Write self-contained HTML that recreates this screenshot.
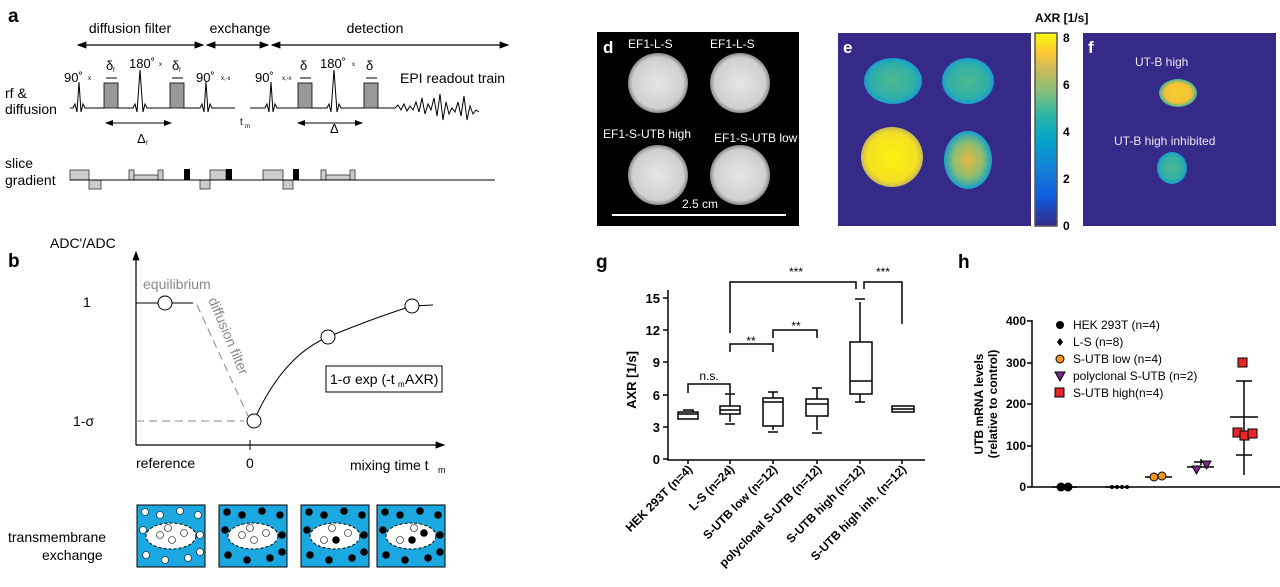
<!DOCTYPE html>
<html><head><meta charset="utf-8"><style>
body{margin:0;background:#fff}
svg{display:block;font-family:"Liberation Sans",sans-serif}
</style></head><body>
<svg width="1280" height="587" viewBox="0 0 1280 587" xmlns="http://www.w3.org/2000/svg">
<defs>
<marker id="ar" markerWidth="8" markerHeight="8" refX="7" refY="4" orient="auto-start-reverse"><path d="M0,1 L8,4 L0,7z" fill="#000"/></marker>
<linearGradient id="par" x1="0" y1="1" x2="0" y2="0">
<stop offset="0" stop-color="#352a87"/><stop offset="0.15" stop-color="#0f5cdd"/><stop offset="0.3" stop-color="#1481d6"/><stop offset="0.45" stop-color="#06a4ca"/><stop offset="0.58" stop-color="#2eb7a4"/><stop offset="0.7" stop-color="#87bf77"/><stop offset="0.82" stop-color="#d1bb59"/><stop offset="0.9" stop-color="#fec832"/><stop offset="1" stop-color="#f9fb0e"/></linearGradient>
<radialGradient id="bl1"><stop offset="0" stop-color="#4cb88e"/><stop offset="0.75" stop-color="#30b0a8"/><stop offset="1" stop-color="#1a9bcb"/></radialGradient>
<radialGradient id="bl2"><stop offset="0" stop-color="#f9f20f"/><stop offset="0.8" stop-color="#f4e020"/><stop offset="1" stop-color="#c9b85a"/></radialGradient>
<radialGradient id="bl3"><stop offset="0" stop-color="#e6b840"/><stop offset="0.6" stop-color="#8dbf70"/><stop offset="1" stop-color="#1aa0c8"/></radialGradient>
<radialGradient id="bl4"><stop offset="0" stop-color="#f2d22a"/><stop offset="0.7" stop-color="#f6c036"/><stop offset="1" stop-color="#40b4a0"/></radialGradient>
<radialGradient id="cir"><stop offset="0" stop-color="#e6e6e6"/><stop offset="0.85" stop-color="#cfcfcf"/><stop offset="1" stop-color="#8a8a8a"/></radialGradient>
</defs>

<!-- Panel a -->
<text x="8" y="22" font-size="19" font-weight="bold">a</text>
<text x="130" y="33" font-size="14" text-anchor="middle">diffusion filter</text>
<text x="240" y="33" font-size="14" text-anchor="middle">exchange</text>
<text x="375" y="33" font-size="14" text-anchor="middle">detection</text>
<g stroke="#000" stroke-width="1.2">
<line x1="78" y1="45" x2="203" y2="45" marker-start="url(#ar)" marker-end="url(#ar)"/>
<line x1="207" y1="45" x2="268" y2="45" marker-start="url(#ar)" marker-end="url(#ar)"/>
<line x1="272" y1="45" x2="508" y2="45" marker-start="url(#ar)" marker-end="url(#ar)"/>
</g>
<text x="5" y="98" font-size="14">rf &amp;</text>
<text x="5" y="114" font-size="14">diffusion</text>
<g fill="none" stroke="#000" stroke-width="1">
<path d="M70,108 H73 l2,-4 l2,8 l2,-30 l2,30 l2,-8 l2,4 H104"/>
<path d="M118,108 H133 l2,-4 l2,8 l3,-42 l3,42 l2,-8 l2,4 H170"/>
<path d="M182,108 H200 l2,-4 l2,8 l2,-30 l2,30 l2,-8 l2,4 H235"/>
<path d="M250,108 H265 l2,-4 l2,8 l2,-30 l2,30 l2,-8 l2,4 H298"/>
<path d="M310,108 H327 l2,-4 l2,8 l3,-42 l3,42 l2,-8 l2,4 H364"/>
<path d="M376,108 H395 l3,-3 l3,5 l3,-6 l3,7 l3,-5 l3,4 l3,-8 l3,10 l3,-14 l3,16 l3,-10 l3,6 l3,-12 l3,18 l3,-22 l3,26 l3,-18 l3,12 l3,-6 l3,4 l3,-10 l3,14 l3,-20 l3,24 l3,-14 l3,8 l3,-4 l3,2"/>
</g>
<g fill="#999" stroke="#000" stroke-width="0.8">
<rect x="104" y="83" width="14" height="25"/><rect x="170" y="83" width="14" height="25"/>
<rect x="298" y="83" width="14" height="25"/><rect x="364" y="83" width="14" height="25"/>
</g>
<g font-size="13"><text x="64" y="82">90˚</text><text x="129" y="68">180˚</text><text x="106" y="70">δ</text><text x="172" y="70">δ</text>
<text x="196" y="82">90˚</text><text x="255" y="82">90˚</text><text x="320" y="68">180˚</text><text x="300" y="70">δ</text><text x="366" y="70">δ</text>
<text x="400" y="83" font-size="14">EPI readout train</text>
<text x="137" y="143">Δ</text><text x="330" y="133">Δ</text><text x="240" y="125" font-size="10">t</text></g>
<g font-size="6"><text x="88" y="80">x</text><text x="159" y="66">x</text><text x="221" y="80">x,-x</text><text x="282" y="80">x,-x</text><text x="352" y="66">x</text><text x="113" y="72">f</text><text x="179" y="72">f</text><text x="146" y="145">f</text><text x="245" y="128">m</text></g>
<g stroke="#000" stroke-width="1"><line x1="106" y1="78" x2="117" y2="78"/><line x1="172" y1="78" x2="183" y2="78"/><line x1="300" y1="78" x2="311" y2="78"/><line x1="366" y1="78" x2="377" y2="78"/>
<line x1="106" y1="123" x2="171" y2="123" marker-start="url(#ar)" marker-end="url(#ar)"/>
<line x1="298" y1="123" x2="362" y2="123" marker-start="url(#ar)" marker-end="url(#ar)"/></g>
<text x="5" y="168" font-size="14">slice</text><text x="5" y="185" font-size="14">gradient</text>
<g fill="#ccc" stroke="#333" stroke-width="0.8">
<rect x="70" y="170" width="19" height="10"/><rect x="89" y="180" width="12" height="9"/>
<rect x="129" y="170" width="5" height="10"/><rect x="134" y="175" width="24" height="5"/><rect x="158" y="170" width="5" height="10"/>
<rect x="200" y="180" width="10" height="9"/><rect x="210" y="170" width="16" height="10"/>
<rect x="263" y="170" width="20" height="10"/><rect x="283" y="180" width="10" height="9"/>
<rect x="321" y="170" width="5" height="10"/><rect x="326" y="175" width="24" height="5"/><rect x="350" y="170" width="5" height="10"/>
</g>
<g fill="#000"><rect x="184" y="169" width="6" height="11"/><rect x="226" y="169" width="6" height="11"/><rect x="293" y="169" width="6" height="11"/></g>
<line x1="70" y1="180" x2="495" y2="180" stroke="#000" stroke-width="1"/>

<!-- Panel b -->
<text x="8" y="267" font-size="19" font-weight="bold">b</text>
<text x="50" y="248" font-size="14">ADC'/ADC</text>
<text x="83" y="307" font-size="14">1</text>
<text x="73" y="426" font-size="14">1-σ</text>
<line x1="136" y1="445" x2="136" y2="252" stroke="#000" stroke-width="1.2" marker-end="url(#ar)"/>
<line x1="136" y1="445" x2="444" y2="445" stroke="#000" stroke-width="1.2" marker-end="url(#ar)"/>
<line x1="250" y1="440" x2="250" y2="450" stroke="#000"/>
<text x="136" y="468" font-size="14">reference</text><text x="246" y="468" font-size="14">0</text>
<text x="350" y="470" font-size="14">mixing time t</text><text x="438" y="473" font-size="9">m</text>
<text x="143" y="289" font-size="14" fill="#888">equilibrium</text>
<path d="M136,303 H193" stroke="#000" fill="none"/>
<path d="M197,305 L248,416 M136,421 H244" stroke="#888" stroke-dasharray="8,5" fill="none"/>
<text transform="translate(208,300) rotate(67)" font-size="14" fill="#888">diffusion filter</text>
<path d="M257,414 Q285,355 328,337 T412,306 L433,305" stroke="#000" fill="none"/>
<g fill="#fff" stroke="#000"><circle cx="165" cy="303" r="7"/><circle cx="254" cy="421" r="7"/><circle cx="328" cy="337" r="7"/><circle cx="412" cy="306" r="7"/>
<rect x="326" y="366" width="116" height="26"/></g>
<text x="330" y="384" font-size="14">1-σ exp (-t</text><text x="398" y="387" font-size="8">m</text><text x="405" y="384" font-size="14">AXR)</text>

<text x="8" y="542" font-size="14">transmembrane</text><text x="42" y="560" font-size="14">exchange</text>
<g id="sq">
<rect x="137" y="505" width="68" height="62" fill="#1ba8e0" stroke="#000"/>
<ellipse cx="171" cy="536" rx="25" ry="13" fill="#fff" stroke="#000" stroke-dasharray="3,2"/>
</g>
<use href="#sq" x="82"/><use href="#sq" x="164"/><use href="#sq" x="240"/>
<g stroke="#000" stroke-width="0.6">
<g fill="#fff"><circle cx="145" cy="512" r="3.5"/><circle cx="160" cy="515" r="3.5"/><circle cx="180" cy="511" r="3.5"/><circle cx="198" cy="515" r="3.5"/><circle cx="143" cy="530" r="3.5"/><circle cx="200" cy="535" r="3.5"/><circle cx="146" cy="555" r="3.5"/><circle cx="165" cy="560" r="3.5"/><circle cx="188" cy="558" r="3.5"/><circle cx="200" cy="552" r="3.5"/><circle cx="160" cy="535" r="3.5"/><circle cx="172" cy="540" r="3.5"/><circle cx="184" cy="533" r="3.5"/><circle cx="168" cy="528" r="3.5"/>
<circle cx="242" cy="535" r="3.5"/><circle cx="254" cy="540" r="3.5"/><circle cx="266" cy="533" r="3.5"/><circle cx="250" cy="528" r="3.5"/>
<circle cx="324" cy="540" r="3.5"/><circle cx="348" cy="533" r="3.5"/><circle cx="332" cy="528" r="3.5"/>
<circle cx="400" cy="540" r="3.5"/><circle cx="414" cy="528" r="3.5"/></g>
<g fill="#000"><circle cx="227" cy="512" r="3.5"/><circle cx="242" cy="515" r="3.5"/><circle cx="262" cy="511" r="3.5"/><circle cx="280" cy="515" r="3.5"/><circle cx="225" cy="530" r="3.5"/><circle cx="282" cy="535" r="3.5"/><circle cx="228" cy="555" r="3.5"/><circle cx="247" cy="560" r="3.5"/><circle cx="270" cy="558" r="3.5"/><circle cx="282" cy="552" r="3.5"/>
<circle cx="309" cy="512" r="3.5"/><circle cx="324" cy="515" r="3.5"/><circle cx="344" cy="511" r="3.5"/><circle cx="362" cy="515" r="3.5"/><circle cx="307" cy="530" r="3.5"/><circle cx="364" cy="535" r="3.5"/><circle cx="310" cy="555" r="3.5"/><circle cx="329" cy="560" r="3.5"/><circle cx="352" cy="558" r="3.5"/><circle cx="364" cy="552" r="3.5"/><circle cx="336" cy="540" r="3.5"/>
<circle cx="385" cy="512" r="3.5"/><circle cx="400" cy="515" r="3.5"/><circle cx="420" cy="511" r="3.5"/><circle cx="438" cy="515" r="3.5"/><circle cx="383" cy="530" r="3.5"/><circle cx="440" cy="535" r="3.5"/><circle cx="386" cy="555" r="3.5"/><circle cx="405" cy="560" r="3.5"/><circle cx="428" cy="558" r="3.5"/><circle cx="440" cy="552" r="3.5"/><circle cx="412" cy="540" r="3.5"/><circle cx="424" cy="533" r="3.5"/></g>
</g>

<!-- Panel d -->
<rect x="597" y="32" width="202" height="194" fill="#000"/>
<text x="603" y="53" font-size="17" font-weight="bold" fill="#fff">d</text>
<g fill="url(#cir)"><circle cx="658" cy="83" r="30"/><circle cx="740" cy="83" r="30"/><circle cx="658" cy="175" r="30"/><circle cx="740" cy="175" r="30"/></g>
<g fill="#fff" font-size="12"><text x="628" y="48">EF1-L-S</text><text x="710" y="48">EF1-L-S</text><text x="603" y="138">EF1-S-UTB high</text><text x="714" y="142">EF1-S-UTB low</text><text x="682" y="208">2.5 cm</text></g>
<line x1="612" y1="215" x2="786" y2="215" stroke="#fff" stroke-width="2"/>

<!-- Panel e -->
<rect x="838" y="33" width="193" height="193" fill="#352a87"/>
<text x="843" y="53" font-size="17" font-weight="bold" fill="#fff">e</text>
<ellipse cx="893" cy="81" rx="29" ry="23" fill="url(#bl1)"/>
<ellipse cx="968" cy="81" rx="26" ry="23" fill="url(#bl1)"/>
<ellipse cx="892" cy="157" rx="31" ry="30" fill="url(#bl2)"/>
<ellipse cx="968" cy="160" rx="24" ry="29" fill="url(#bl3)"/>
<rect x="1035" y="33" width="22" height="193" fill="url(#par)" stroke="#555" stroke-width="1.5"/>
<text x="1035" y="22" font-size="12" font-weight="bold">AXR [1/s]</text>
<g font-size="12" font-weight="bold"><text x="1063" y="42">8</text><text x="1063" y="89">6</text><text x="1063" y="136">4</text><text x="1063" y="183">2</text><text x="1063" y="230">0</text></g>
<!-- Panel f -->
<rect x="1083" y="33" width="193" height="193" fill="#352a87"/>
<text x="1088" y="53" font-size="17" font-weight="bold" fill="#fff">f</text>
<g fill="#e8e8f0" font-size="12"><text x="1135" y="66">UT-B high</text><text x="1114" y="145">UT-B high inhibited</text></g>
<ellipse cx="1178" cy="93" rx="19" ry="14" fill="url(#bl4)"/>
<ellipse cx="1172" cy="168" rx="15" ry="16" fill="url(#bl1)"/>

<!-- Panel g -->
<text x="596" y="268" font-size="19" font-weight="bold">g</text>
<g stroke="#000" stroke-width="1.5" fill="none">
<path d="M668,290 V460 H925"/>
<path d="M663,298 h5 M663,330 h5 M663,362 h5 M663,395 h5 M663,427 h5 M663,459 h5"/>
<path d="M688,460 v4 M730,460 v4 M773,460 v4 M817,460 v4 M860,460 v4 M902,460 v4"/>
<path d="M678,412 h20 v7 h-20z M678,414 h20 M683,410 h10 v2"/>
<path d="M720,414 h20 v-8 h-20z M720,410 h20 M730,406 v-12 M725,394 h10 M730,414 v8 M725,424 h10"/>
<path d="M763,426 h20 v-28 h-20z M763,402 h20 M773,398 v-6 M768,392 h10 M773,426 v4 M768,432 h10"/>
<path d="M806,416 h22 v-17 h-22z M806,404 h22 M817,399 v-11 M812,388 h10 M817,416 v14 M812,433 h10"/>
<path d="M850,394 h22 v-52 h-22z M850,381 h22 M860,342 v-40 M855,299 h10 M860,394 v8 M855,402 h10"/>
<path d="M892,412 h22 v-6 h-22z M892,409 h22"/>
<path d="M688,393 v-9 h42 v9"/>
<path d="M730,352 v-8 h43 v8"/>
<path d="M773,338 v-8 h44 v8"/>
<path d="M730,333 V282 h126 v7"/>
<path d="M864,289 v-7 h38 v42"/>
</g>
<g font-size="12" text-anchor="middle"><text x="709" y="380">n.s.</text><text x="751" y="345">**</text><text x="796" y="330">**</text><text x="796" y="276">***</text><text x="883" y="276">***</text></g>
<g font-size="13" font-weight="bold" text-anchor="end"><text x="660" y="303">15</text><text x="660" y="335">12</text><text x="660" y="367">9</text><text x="660" y="400">6</text><text x="660" y="432">3</text><text x="660" y="464">0</text></g>
<text transform="translate(636,380) rotate(-90)" font-size="13" font-weight="bold" text-anchor="middle">AXR [1/s]</text>
<g font-size="12" font-weight="bold" text-anchor="end">
<text transform="translate(693,470) rotate(-45)">HEK 293T (n=4)</text>
<text transform="translate(735,470) rotate(-45)">L-S (n=24)</text>
<text transform="translate(778,470) rotate(-45)">S-UTB low (n=12)</text>
<text transform="translate(822,470) rotate(-45)">polyclonal S-UTB (n=12)</text>
<text transform="translate(865,470) rotate(-45)">S-UTB high (n=12)</text>
<text transform="translate(907,470) rotate(-45)">S-UTB high inh. (n=12)</text>
</g>

<!-- Panel h -->
<text x="958" y="268" font-size="19" font-weight="bold">h</text>
<g stroke="#000" stroke-width="1.5" fill="none">
<path d="M1032,320 V487 H1280"/>
<path d="M1027,321 h5 M1027,363 h5 M1027,404 h5 M1027,446 h5 M1027,487 h5"/>
<path d="M1052,487 h25 M1105,487 h25 M1145,477 h27 M1187,467 h27"/>
<path d="M1230,417 h28 M1244,381 v94 M1236,381 h16 M1236,455 h16 M1194,462 h14 M1201,459 v6"/>
</g>
<g font-size="12" font-weight="bold" text-anchor="end"><text x="1026" y="325">400</text><text x="1026" y="367">300</text><text x="1026" y="408">200</text><text x="1026" y="450">100</text><text x="1026" y="491">0</text></g>
<text transform="translate(983,404) rotate(-90)" font-size="12" font-weight="bold" text-anchor="middle">UTB mRNA levels</text>
<text transform="translate(997,404) rotate(-90)" font-size="12" font-weight="bold" text-anchor="middle">(relative to control)</text>
<g font-size="12"><text x="1073" y="329">HEK 293T (n=4)</text><text x="1073" y="346">L-S (n=8)</text><text x="1073" y="363">S-UTB low (n=4)</text><text x="1073" y="380">polyclonal S-UTB (n=2)</text><text x="1073" y="397">S-UTB high(n=4)</text></g>
<circle cx="1060" cy="325" r="4"/><path d="M1060,338 l3,4 l-3,4 l-3,-4z"/>
<circle cx="1060" cy="359" r="4" fill="#f39420" stroke="#000"/>
<path d="M1055,372 h10 l-5,9z" fill="#7b2a8a" stroke="#000"/>
<rect x="1055" y="388" width="9" height="9" fill="#e8262a" stroke="#000"/>
<g stroke="#000"><circle cx="1061" cy="487" r="4"/><circle cx="1068" cy="487" r="4"/>
<g fill="#f39420"><circle cx="1154" cy="477" r="4"/><circle cx="1162" cy="476" r="4"/></g>
<path d="M1192,466 h9 l-4.5,8z M1202,461 h9 l-4.5,8z" fill="#7b2a8a"/>
<g fill="#e8262a"><rect x="1233" y="428" width="9" height="9"/><rect x="1240" y="431" width="9" height="9"/><rect x="1248" y="429" width="9" height="9"/><rect x="1238" y="358" width="9" height="9"/></g></g>
<g fill="#000"><circle cx="1112" cy="487" r="2"/><circle cx="1117" cy="487" r="2"/><circle cx="1122" cy="487" r="2"/><circle cx="1127" cy="487" r="2"/></g>
</svg>
</body></html>
